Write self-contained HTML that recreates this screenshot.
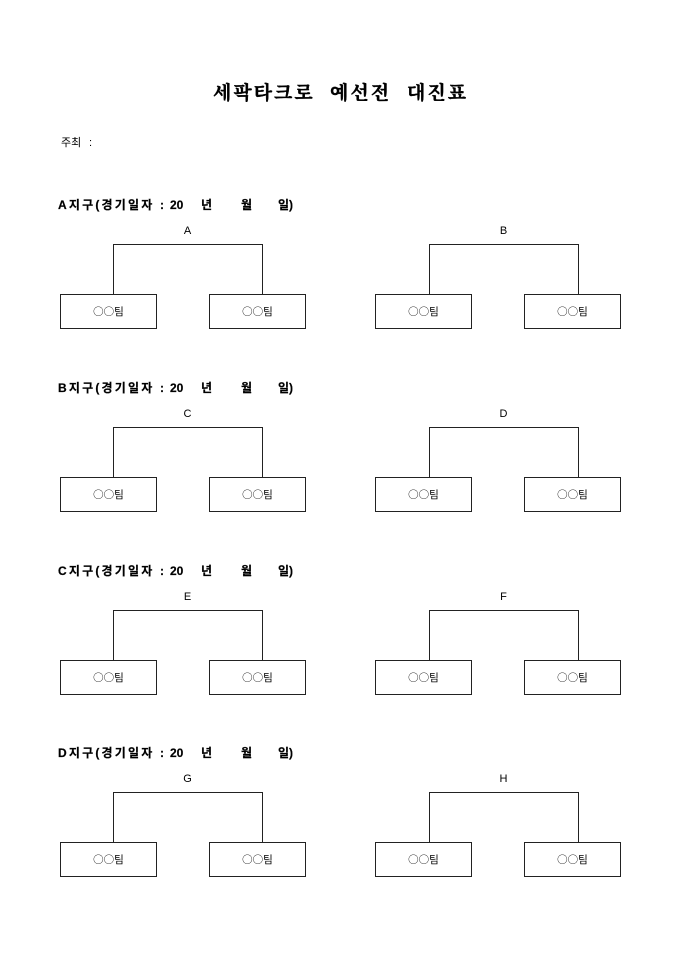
<!DOCTYPE html>
<html>
<head>
<meta charset="utf-8">
<style>
  html,body{margin:0;padding:0;background:#fff;}
  body{width:680px;height:962px;overflow:hidden;position:relative;}
  svg{position:absolute;left:0;top:0;}
  .t{font-family:"Noto Serif CJK SC","Liberation Serif",serif;font-weight:bold;font-size:19px;fill:#000;stroke:#000;stroke-width:0.4;}
  .h{font-family:"Liberation Sans","Noto Sans CJK KR",sans-serif;font-weight:bold;font-size:12px;fill:#000;stroke:#000;stroke-width:0.2;}
  .n{font-family:"Liberation Sans","Noto Sans CJK KR",sans-serif;font-size:11px;fill:#000;}
  .b{font-family:"Noto Sans CJK KR",sans-serif;font-size:10.5px;fill:#000;}
  .l{font-family:"Liberation Sans",sans-serif;font-size:11px;fill:#000;}
</style>
</head>
<body>
<svg width="680" height="962" viewBox="0 0 680 962" xmlns="http://www.w3.org/2000/svg">
  <!-- Title -->
  <text class="t" x="213" y="99" letter-spacing="2">세팍타크로</text>
  <text class="t" x="330" y="99" letter-spacing="2">예선전</text>
  <text class="t" x="407" y="99" letter-spacing="2">대진표</text>

  <!-- 주최 -->
  <text class="n" x="61" y="146">주최</text>
  <text class="n" x="89" y="146">:</text>

  <defs>
    <g id="sec">
      <g fill="none" stroke="#222" stroke-width="1">
        <polyline points="113.5,294 113.5,244.5 262.5,244.5 262.5,294"/>
        <polyline points="429.5,294 429.5,244.5 578.5,244.5 578.5,294"/>
        <rect x="60.5" y="294.5" width="96" height="34"/>
        <rect x="209.5" y="294.5" width="96" height="34"/>
        <rect x="375.5" y="294.5" width="96" height="34"/>
        <rect x="524.5" y="294.5" width="96" height="34"/>
      </g>
      <text class="b" x="108.5" y="315" text-anchor="middle">○○팀</text>
      <text class="b" x="257.5" y="315" text-anchor="middle">○○팀</text>
      <text class="b" x="423.5" y="315" text-anchor="middle">○○팀</text>
      <text class="b" x="572.5" y="315" text-anchor="middle">○○팀</text>
      <text class="h" x="170" y="209">20</text>
      <text class="h" x="201" y="209">년</text>
      <text class="h" x="241" y="209">월</text>
      <text class="h" x="278" y="209">일)</text>
    </g>
  </defs>

  <!-- A -->
  <use href="#sec"/>
  <text class="h" x="58" y="209" textLength="106" lengthAdjust="spacing">A지구(경기일자 :</text>
  <text class="l" x="187.5" y="234" text-anchor="middle">A</text>
  <text class="l" x="503.5" y="234" text-anchor="middle">B</text>

  <!-- B -->
  <g transform="translate(0,183)">
    <use href="#sec"/>
    <text class="h" x="58" y="209" textLength="106" lengthAdjust="spacing">B지구(경기일자 :</text>
    <text class="l" x="187.5" y="234" text-anchor="middle">C</text>
    <text class="l" x="503.5" y="234" text-anchor="middle">D</text>
  </g>

  <!-- C -->
  <g transform="translate(0,366)">
    <use href="#sec"/>
    <text class="h" x="58" y="209" textLength="106" lengthAdjust="spacing">C지구(경기일자 :</text>
    <text class="l" x="187.5" y="234" text-anchor="middle">E</text>
    <text class="l" x="503.5" y="234" text-anchor="middle">F</text>
  </g>

  <!-- D -->
  <g transform="translate(0,548)">
    <use href="#sec"/>
    <text class="h" x="58" y="209" textLength="106" lengthAdjust="spacing">D지구(경기일자 :</text>
    <text class="l" x="187.5" y="234" text-anchor="middle">G</text>
    <text class="l" x="503.5" y="234" text-anchor="middle">H</text>
  </g>
</svg>
</body>
</html>
